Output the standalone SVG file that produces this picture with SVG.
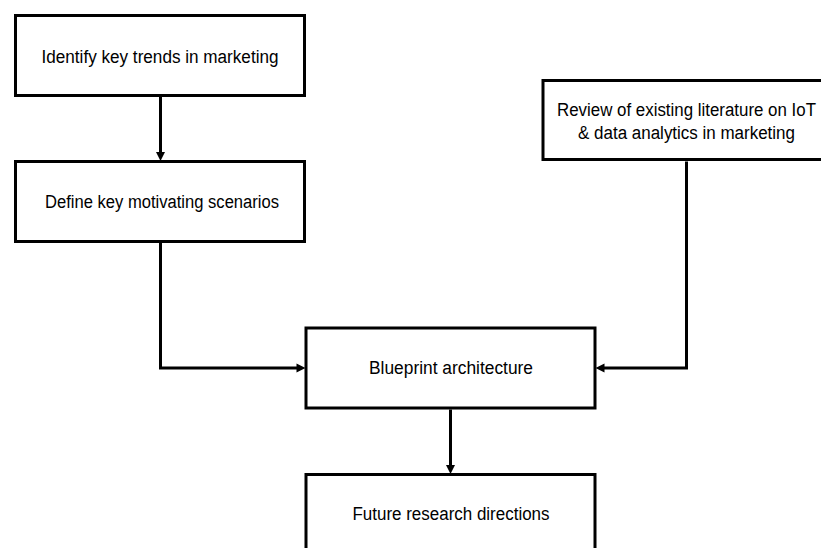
<svg xmlns="http://www.w3.org/2000/svg" width="821" height="548" viewBox="0 0 821 548">
<style>
.box{fill:#fff;stroke:#000;stroke-width:3}
.lbl{font-family:"Liberation Sans",Arial,sans-serif;font-size:18px;fill:#000;text-anchor:middle}
.conn{fill:none;stroke:#000;stroke-width:3}
</style>
<defs>
<marker id="ah" markerUnits="userSpaceOnUse" markerWidth="10" markerHeight="10" viewBox="0 0 9 10" refX="4" refY="5" orient="auto">
<path d="M0,0.5 L9,5 L0,9.5 z" fill="#000"/>
</marker>
</defs>
<rect width="821" height="548" fill="#fff"/>
<g id="connectors">
<path class="conn" d="M160.5,97 V156" marker-end="url(#ah)"/>
<path class="conn" d="M160.5,243 V368 H300.5" marker-end="url(#ah)"/>
<path class="conn" d="M686.5,161.5 V368 H600.5" marker-end="url(#ah)"/>
<path class="conn" d="M450.5,409.5 V469" marker-end="url(#ah)"/>
</g>
<g id="n1">
<rect class="box" x="15.5" y="15.5" width="289" height="80"/>
<text class="lbl" x="160" y="63" textLength="237" lengthAdjust="spacingAndGlyphs">Identify key trends in marketing</text>
</g>
<g id="n2">
<rect class="box" x="15.5" y="161.5" width="289" height="80"/>
<text class="lbl" x="162" y="208" textLength="234" lengthAdjust="spacingAndGlyphs">Define key motivating scenarios</text>
</g>
<g id="n3">
<rect class="box" x="543" y="80.5" width="290" height="79"/>
<text class="lbl" x="686.5" y="116" textLength="259" lengthAdjust="spacingAndGlyphs">Review of existing literature on IoT</text>
<text class="lbl" x="686.5" y="139" textLength="217" lengthAdjust="spacingAndGlyphs">&amp; data analytics in marketing</text>
</g>
<g id="n4">
<rect class="box" x="306" y="328" width="289" height="80"/>
<text class="lbl" x="451" y="374" textLength="164" lengthAdjust="spacingAndGlyphs">Blueprint architecture</text>
</g>
<g id="n5">
<rect class="box" x="306" y="474.5" width="289" height="100"/>
<text class="lbl" x="451" y="520" textLength="197" lengthAdjust="spacingAndGlyphs">Future research directions</text>
</g>
</svg>
